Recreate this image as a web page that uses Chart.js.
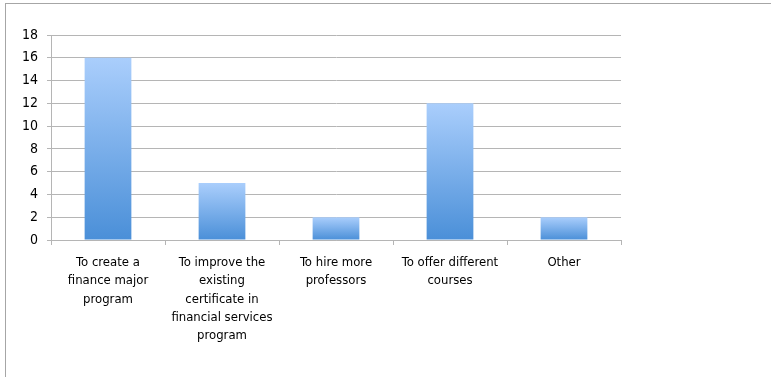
<!DOCTYPE html>
<html>
<head>
<meta charset="utf-8">
<script src="https://cdn.jsdelivr.net/npm/chart.js@4/dist/chart.umd.min.js"></script>
<style>
  html, body { margin: 0; padding: 0; background: #fff; overflow: hidden; }
  #frame { position: absolute; left: 5px; top: 3px; width: 900px; height: 500px; border: 1px solid #a6a6a6; box-sizing: border-box; }
  #chart { position: absolute; left: 0; top: 0; }
</style>
</head>
<body>
<div id="frame"></div>
<canvas id="chart" width="771" height="377"></canvas>
<script>
// --- DATA ---
const categories = [
    ['To create a', 'finance major', 'program'],
    ['To improve the', 'existing', 'certificate in', 'financial services', 'program'],
    ['To hire more', 'professors'],
    ['To offer different', 'courses'],
    ['Other']
];
const responses = [16, 5, 2, 12, 2];
const yMax = 18;
const yStep = 2;

const FONT = "'Liberation Sans Narrow', 'DejaVu Sans Condensed', 'Liberation Sans', sans-serif";
const gridColor = '#b5b5b5';

// vertical gradient per bar, light on top, darker at the base
function barGradient(ctx) {
    const chart = ctx.chart;
    if (!chart.chartArea || ctx.type !== 'data') return '#6aa5e6';
    const y = chart.scales.y;
    const top = y.getPixelForValue(ctx.raw);
    const base = y.getPixelForValue(0);
    const g = chart.ctx.createLinearGradient(0, top, 0, base);
    g.addColorStop(0, '#aacefc');
    g.addColorStop(1, '#4a8fd8');
    return g;
}

new Chart(document.getElementById('chart').getContext('2d'), {
    type: 'bar',
    data: {
        labels: categories,
        datasets: [{
            data: responses,
            backgroundColor: barGradient,
            borderWidth: 0,
            categoryPercentage: 0.82,
            barPercentage: 0.5
        }]
    },
    options: {
        responsive: false,
        animation: false,
        devicePixelRatio: 1,
        layout: { padding: { top: 35, right: 150, left: 0, bottom: 0 } },
        plugins: { legend: { display: false }, tooltip: { enabled: false } },
        scales: {
            x: {
                grid: { offset: true, drawOnChartArea: false, color: gridColor, tickLength: 5 },
                border: { color: gridColor },
                ticks: { color: '#000', font: { family: FONT, size: 13, lineHeight: 1.42 }, maxRotation: 0, autoSkip: false, padding: 8 },
                afterFit: s => { s.height = 137; }
            },
            y: {
                min: 0,
                max: yMax,
                grid: { color: gridColor, tickLength: 4 },
                border: { color: gridColor },
                ticks: { stepSize: yStep, color: '#000', font: { family: FONT, size: 14 }, padding: 9 },
                afterFit: s => { s.width = 51; }
            }
        }
    }
});
</script>
</body>
</html>
